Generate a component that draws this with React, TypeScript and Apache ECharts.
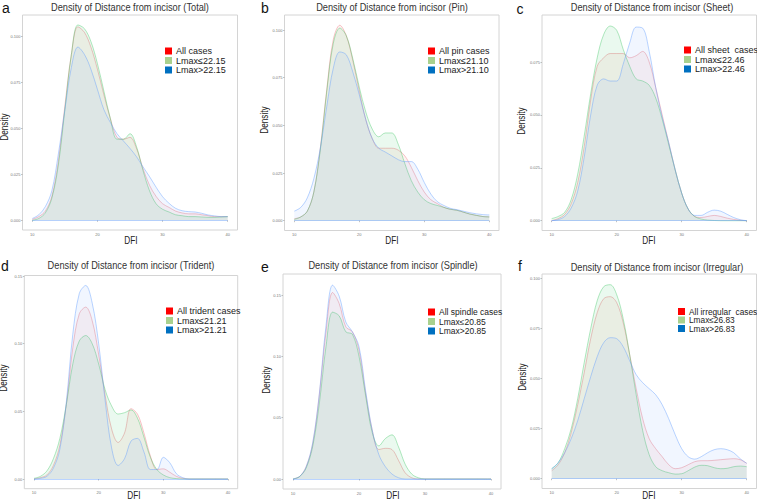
import React, { useEffect, useRef } from "react";
import * as echarts from "echarts";

// x grid (DFI) shared by all panels
const DFI = [10, 11, 12, 13, 14, 15, 16, 17, 18, 19, 20, 21, 22, 23, 24, 25, 26, 27, 28, 29, 30, 31, 32, 33, 34, 35, 36, 37, 38, 39, 40];
const X_TICKS = [10, 20, 30, 40];

// a: Total
const totalAll = [0.0005, 0.002, 0.005, 0.013, 0.032, 0.062, 0.09, 0.105, 0.102, 0.094, 0.082, 0.068, 0.055, 0.045, 0.044, 0.045, 0.039, 0.028, 0.019, 0.013, 0.009, 0.007, 0.005, 0.004, 0.0035, 0.0035, 0.003, 0.0025, 0.002, 0.002, 0.002];
const totalLow = [0, 0.001, 0.004, 0.012, 0.03, 0.06, 0.09, 0.106, 0.104, 0.097, 0.085, 0.07, 0.055, 0.044, 0.044, 0.047, 0.04, 0.027, 0.016, 0.009, 0.006, 0.0045, 0.003, 0.0025, 0.002, 0.002, 0.0018, 0.0016, 0.0016, 0.0018, 0.002];
const totalHigh = [0.001, 0.003, 0.0074, 0.016, 0.036, 0.06, 0.083, 0.094, 0.09, 0.082, 0.071, 0.06, 0.053, 0.047, 0.043, 0.039, 0.0345, 0.029, 0.0237, 0.018, 0.0128, 0.0092, 0.0065, 0.0052, 0.0047, 0.0045, 0.0038, 0.0029, 0.0024, 0.002, 0.002];

// b: Pin
const pinAll = [0.001, 0.002, 0.005, 0.015, 0.038, 0.069, 0.095, 0.1025, 0.097, 0.084, 0.068, 0.053, 0.043, 0.038, 0.038, 0.038, 0.037, 0.034, 0.028, 0.021, 0.015, 0.011, 0.009, 0.007, 0.006, 0.0055, 0.0045, 0.0035, 0.0028, 0.0022, 0.002];
const pinLow = [0.0007, 0.002, 0.005, 0.015, 0.037, 0.068, 0.093, 0.101, 0.097, 0.085, 0.07, 0.057, 0.048, 0.044, 0.046, 0.046, 0.04, 0.03, 0.021, 0.015, 0.011, 0.009, 0.008, 0.007, 0.006, 0.0055, 0.0045, 0.0035, 0.0028, 0.0022, 0.002];
const pinHigh = [0.005, 0.007, 0.012, 0.022, 0.038, 0.06, 0.08, 0.0885, 0.087, 0.078, 0.066, 0.053, 0.043, 0.038, 0.036, 0.034, 0.032, 0.031, 0.031, 0.027, 0.02, 0.014, 0.01, 0.008, 0.0065, 0.0058, 0.005, 0.0042, 0.0036, 0.0032, 0.003];

// c: Sheet
const sheetAll = [0, 0.001, 0.003, 0.008, 0.018, 0.035, 0.057, 0.073, 0.077, 0.079, 0.079, 0.079, 0.077, 0.078, 0.08, 0.075, 0.063, 0.05, 0.037, 0.024, 0.013, 0.0055, 0.002, 0.0015, 0.002, 0.0025, 0.002, 0.0012, 0.0006, 0.0002, 0];
const sheetLow = [0.001, 0.002, 0.004, 0.01, 0.022, 0.04, 0.06, 0.077, 0.088, 0.092, 0.09, 0.081, 0.073, 0.067, 0.066, 0.064, 0.058, 0.048, 0.036, 0.024, 0.013, 0.0055, 0.002, 0.0008, 0.0003, 0.0001, 0, 0, 0, 0, 0];
const sheetHigh = [0, 0.0005, 0.002, 0.006, 0.014, 0.03, 0.05, 0.064, 0.067, 0.066, 0.066, 0.074, 0.084, 0.0915, 0.091, 0.08, 0.063, 0.049, 0.037, 0.024, 0.013, 0.0055, 0.0025, 0.0025, 0.004, 0.005, 0.0045, 0.003, 0.0015, 0.0005, 0];

// d: Trident
const tridentAll = [0, 0.001, 0.003, 0.01, 0.025, 0.055, 0.097, 0.122, 0.127, 0.117, 0.092, 0.062, 0.037, 0.027, 0.034, 0.052, 0.048, 0.034, 0.017, 0.007, 0.0075, 0.005, 0.002, 0.0005, 0, 0, 0, 0, 0, 0, 0];
const tridentLow = [0.0005, 0.002, 0.006, 0.015, 0.03, 0.055, 0.085, 0.102, 0.106, 0.1, 0.085, 0.066, 0.054, 0.048, 0.049, 0.051, 0.045, 0.031, 0.016, 0.007, 0.003, 0.001, 0.0003, 0, 0, 0, 0, 0, 0, 0, 0];
const tridentHigh = [0, 0.0005, 0.002, 0.008, 0.022, 0.057, 0.107, 0.137, 0.143, 0.13, 0.1, 0.058, 0.023, 0.01, 0.015, 0.028, 0.03, 0.02, 0.007, 0.007, 0.016, 0.012, 0.004, 0.001, 0, 0, 0, 0, 0, 0, 0];

// e: Spindle
const spindleAll = [0, 0.002, 0.01, 0.029, 0.069, 0.12, 0.152, 0.143, 0.124, 0.12, 0.105, 0.07, 0.04, 0.024, 0.025, 0.024, 0.015, 0.005, 0.001, 0, 0, 0, 0, 0, 0, 0, 0, 0, 0, 0, 0];
const spindleLow = [0, 0.002, 0.009, 0.027, 0.062, 0.108, 0.136, 0.133, 0.12, 0.118, 0.1, 0.068, 0.038, 0.027, 0.033, 0.036, 0.026, 0.012, 0.004, 0.001, 0, 0, 0, 0, 0, 0, 0, 0, 0, 0, 0];
const spindleHigh = [0, 0.002, 0.01, 0.03, 0.07, 0.125, 0.158, 0.149, 0.128, 0.12, 0.108, 0.072, 0.04, 0.02, 0.01, 0.004, 0.001, 0, 0, 0, 0, 0, 0, 0, 0, 0, 0, 0, 0, 0, 0];

// f: Irregular
const irregularAll = [0.004, 0.007, 0.013, 0.023, 0.037, 0.053, 0.07, 0.083, 0.09, 0.091, 0.088, 0.078, 0.062, 0.045, 0.03, 0.02, 0.015, 0.011, 0.007, 0.005, 0.0055, 0.007, 0.0085, 0.009, 0.009, 0.0092, 0.0095, 0.0098, 0.01, 0.0095, 0.0077];
const irregularLow = [0.005, 0.008, 0.015, 0.025, 0.04, 0.058, 0.075, 0.089, 0.096, 0.097, 0.092, 0.08, 0.062, 0.042, 0.024, 0.012, 0.006, 0.004, 0.003, 0.0023, 0.0025, 0.004, 0.0058, 0.0067, 0.0065, 0.0055, 0.005, 0.0052, 0.006, 0.0063, 0.006];
const irregularHigh = [0.005, 0.008, 0.013, 0.02, 0.029, 0.04, 0.051, 0.061, 0.068, 0.0705, 0.07, 0.066, 0.059, 0.052, 0.048, 0.045, 0.042, 0.037, 0.03, 0.022, 0.015, 0.011, 0.0098, 0.011, 0.013, 0.0145, 0.015, 0.0145, 0.013, 0.01, 0.0077];

const TITLES = [
  "Density of Distance from incisor (Total)",
  "Density of Distance from incisor (Pin)",
  "Density of Distance from incisor (Sheet)",
  "Density of Distance from incisor (Trident)",
  "Density of Distance from incisor (Spindle)",
  "Density of Distance from incisor (Irregular)",
];
const LETTERS = ["a", "b", "c", "d", "e", "f"];
const SERIES_NAMES = [
  ["All cases", "Lmax≤22.15", "Lmax>22.15"],
  ["All pin cases", "Lmax≤21.10", "Lmax>21.10"],
  ["All sheet  cases", "Lmax≤22.46", "Lmax>22.46"],
  ["All trident cases", "Lmax≤21.21", "Lmax>21.21"],
  ["All spindle cases", "Lmax≤20.85", "Lmax>20.85"],
  ["All irregular  cases", "Lmax≤26.83", "Lmax>26.83"],
];
const SERIES_DATA = [
  [totalAll, totalLow, totalHigh],
  [pinAll, pinLow, pinHigh],
  [sheetAll, sheetLow, sheetHigh],
  [tridentAll, tridentLow, tridentHigh],
  [spindleAll, spindleLow, spindleHigh],
  [irregularAll, irregularLow, irregularHigh],
];
const Y_TOP = [0.1, 0.1, 0.075, 0.15, 0.15, 0.1];
const Y_STEP = [0.025, 0.025, 0.025, 0.05, 0.05, 0.025];
const Y_DEC = [3, 3, 3, 2, 2, 3];

// layout (pixels)
const LAYOUT = [
  { border: [22.5, 15, 237.5, 230], plot: [32.3, 227.7, 220.3, 36], legend: [165, 46.5], letter: [6, 8], title: [130, 7], dens: [5, 127], dfi: [131, 240], lfs: 9 },
  { border: [284.5, 15, 499, 230.5], plot: [294.3, 489.3, 220.7, 30], legend: [428, 46.5], letter: [265, 8], title: [392, 7], dens: [265, 120], dfi: [392, 240], lfs: 9 },
  { border: [542, 15, 756.5, 230.5], plot: [551.7, 746.7, 220.7, 62], legend: [684, 45.5], letter: [520, 9], title: [652, 7], dens: [522, 121], dfi: [649, 240], lfs: 9 },
  { border: [24.3, 275.5, 237.7, 488.7], plot: [34, 228, 479, 276], legend: [166, 306.5], letter: [5, 266], title: [131, 265], dens: [4, 378], dfi: [134, 495], lfs: 9 },
  { border: [283, 274, 501, 489], plot: [293, 491, 479, 295], legend: [428, 307.5], letter: [265, 267], title: [393, 265], dens: [267, 380], dfi: [393, 495], lfs: 8.5 },
  { border: [542, 274, 756.5, 488.5], plot: [551.7, 746.7, 478.7, 278.7], legend: [678, 307.5], letter: [520, 266], title: [657, 267], dens: [523, 377], dfi: [649, 495], lfs: 8.3 },
];

const LEGEND_COLORS = ["#ff0000", "#a9d18e", "#0070c0"];
const FILL = ["rgba(248,118,109,0.13)", "rgba(0,186,56,0.12)", "rgba(97,156,255,0.13)"];
const LINE = ["rgba(235,110,120,0.5)", "rgba(40,190,80,0.45)", "rgba(97,156,255,0.55)"];
const FONT = "Liberation Sans, Arial, sans-serif";

export default function App() {
  const ref = useRef<HTMLDivElement>(null);
  useEffect(() => {
    if (!ref.current) return;
    const chart = echarts.init(ref.current, null, { renderer: "svg" });
    const grids: any[] = [];
    const xAxes: any[] = [];
    const yAxes: any[] = [];
    const series: any[] = [];
    const legends: any[] = [];
    const graphics: any[] = [];

    LAYOUT.forEach((L, i) => {
      const [x10, x40, y0, yTopPx] = L.plot;
      const [bl, bt, br, bb] = L.border;
      grids.push({ left: x10, top: yTopPx, width: x40 - x10, height: y0 - yTopPx, show: false });
      xAxes.push({
        type: "value",
        gridIndex: i,
        min: X_TICKS[0],
        max: X_TICKS[X_TICKS.length - 1],
        interval: X_TICKS[1] - X_TICKS[0],
        offset: bb - y0,
        axisLine: { show: false },
        axisTick: { show: true, length: 1.5, lineStyle: { color: "#999", width: 0.6 } },
        axisLabel: { fontSize: 4, color: "#777", margin: 2, fontFamily: FONT },
        splitLine: { show: false },
      });
      yAxes.push({
        type: "value",
        gridIndex: i,
        min: 0,
        max: Y_TOP[i],
        interval: Y_STEP[i],
        offset: x10 - bl,
        axisLine: { show: false },
        axisTick: { show: true, length: 1.5, lineStyle: { color: "#999", width: 0.6 } },
        axisLabel: { fontSize: 4, color: "#777", margin: 2, fontFamily: FONT, formatter: (v: number) => v.toFixed(Y_DEC[i]) },
        splitLine: { show: false },
      });
      SERIES_DATA[i].forEach((arr, j) => {
        const s: any = {
          type: "line",
          name: SERIES_NAMES[i][j],
          xAxisIndex: i,
          yAxisIndex: i,
          data: DFI.map((x, k) => [x, arr[k]]),
          smooth: 0.35,
          symbol: "none",
          clip: false,
          silent: true,
          itemStyle: { color: LEGEND_COLORS[j] },
          lineStyle: { width: 0.8, color: LINE[j] },
          areaStyle: { color: FILL[j], origin: "start" },
          z: 2 + j,
        };
        if (j === 2) {
          s.markLine = {
            silent: true,
            symbol: "none",
            label: { show: false },
            lineStyle: { color: LINE[2], width: 0.8, type: "solid" },
            data: [{ yAxis: 0 }],
          };
        }
        series.push(s);
      });
      legends.push({
        left: L.legend[0],
        top: L.legend[1],
        orient: "vertical",
        padding: 0,
        itemWidth: 7,
        itemHeight: 7,
        itemGap: 0.5,
        icon: "rect",
        selectedMode: false,
        textStyle: { fontSize: L.lfs, lineHeight: 8, color: "#222", fontFamily: FONT, padding: [0, 0, 0, -1] },
        data: SERIES_NAMES[i].map((n, j) => ({ name: n, icon: "rect", itemStyle: { color: LEGEND_COLORS[j], borderWidth: 0 }, lineStyle: { width: 0 } })),
      });
      graphics.push({
        type: "rect",
        shape: { x: bl, y: bt, width: br - bl, height: bb - bt },
        style: { fill: "none", stroke: "#d4d4d4", lineWidth: 1 },
        silent: true,
        z: 0,
      });
      graphics.push({
        type: "text",
        x: L.title[0],
        y: L.title[1],
        scaleX: 0.84,
        style: { text: TITLES[i], fontSize: 11, fontFamily: FONT, fill: "#333", textAlign: "center", textVerticalAlign: "middle" },
      });
      graphics.push({
        type: "text",
        x: L.letter[0],
        y: L.letter[1],
        style: { text: LETTERS[i], fontSize: 14, fontFamily: FONT, fill: "#111", textAlign: "center", textVerticalAlign: "middle" },
      });
      graphics.push({
        type: "text",
        x: L.dens[0],
        y: L.dens[1],
        rotation: Math.PI / 2,
        scaleX: 0.82,
        style: { text: "Density", fontSize: 10, fontFamily: FONT, fill: "#222", textAlign: "center", textVerticalAlign: "middle" },
      });
      graphics.push({
        type: "text",
        x: L.dfi[0],
        y: L.dfi[1],
        scaleX: 0.75,
        style: { text: "DFI", fontSize: 11, fontFamily: FONT, fill: "#222", textAlign: "center", textVerticalAlign: "middle" },
      });
    });

    chart.setOption({
      animation: false,
      backgroundColor: "#ffffff",
      grid: grids,
      xAxis: xAxes,
      yAxis: yAxes,
      series,
      legend: legends,
      graphic: { elements: graphics },
    });
    return () => chart.dispose();
  }, []);
  return <div ref={ref} style={{ position: "absolute", left: 0, top: 0, width: 757, height: 501 }} />;
}
